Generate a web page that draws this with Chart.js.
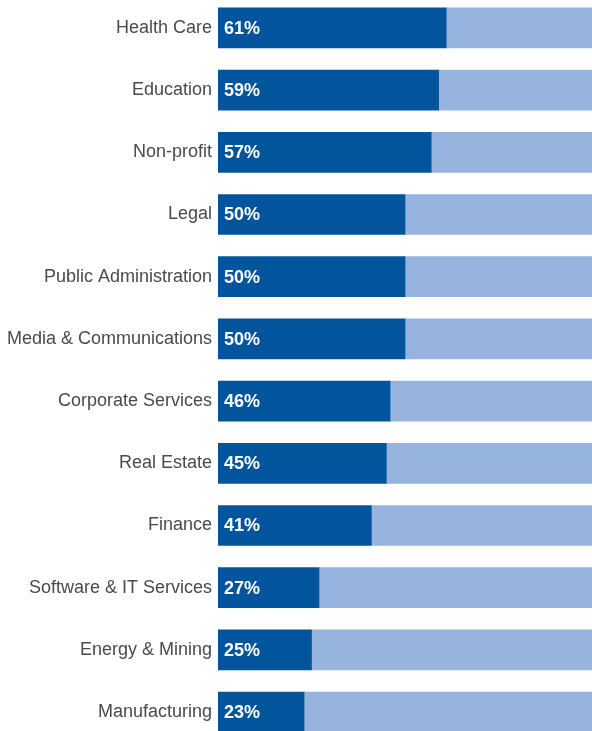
<!DOCTYPE html>
<html><head><meta charset="utf-8">
<script src="https://cdn.jsdelivr.net/npm/chart.js@4"></script>
<style>
html,body{margin:0;padding:0;overflow:hidden;background:#fff;width:592px;height:731px;}
#wrap{position:absolute;left:0;top:-20px;width:592px;height:780px;}
</style></head><body>
<div id="wrap"><canvas id="c"></canvas></div>
<script>
const categories = ["Health Care","Education","Non-profit","Legal","Public Administration","Media & Communications","Corporate Services","Real Estate","Finance","Software & IT Services","Energy & Mining","Manufacturing"];
const values = [61,59,57,50,50,50,46,45,41,27,25,23];
const remainder = values.map(v => 100 - v);
const valueLabels = values.map(v => v + "%");

const labelPlugin = {
  id: 'valLabels',
  afterDatasetsDraw(chart) {
    const ctx = chart.ctx;
    const meta = chart.getDatasetMeta(0);
    ctx.save();
    ctx.fillStyle = '#ffffff';
    ctx.font = 'bold 18px "Liberation Sans", Arial, sans-serif';
    ctx.textAlign = 'left';
    ctx.textBaseline = 'middle';
    meta.data.forEach((bar, i) => {
      ctx.fillText(valueLabels[i], bar.base + 6, bar.y + 1);
    });
    ctx.restore();
  }
};

new Chart(document.getElementById('c'), {
  type: 'bar',
  data: {
    labels: categories,
    datasets: [
      {data: values, backgroundColor: '#02549C', borderWidth: 0, barThickness: 40},
      {data: remainder, backgroundColor: '#96B4DD', borderWidth: 0, barThickness: 40}
    ]
  },
  options: {
    indexAxis: 'y',
    responsive: true,
    maintainAspectRatio: false,
    animation: false,
    layout: {padding: 0},
    plugins: {legend: {display: false}, tooltip: {enabled: false}},
    scales: {
      x: {stacked: true, min: 0, max: 100, display: false},
      y: {
        stacked: true,
        grid: {display: false, drawTicks: false, tickLength: 0},
        border: {display: false},
        ticks: {color: '#4a4a4a', font: {size: 18, family: '"Liberation Sans", Arial, sans-serif'}, padding: 6},
        afterFit(scale) { scale.width = 218; }
      }
    }
  },
  plugins: [labelPlugin]
});
</script>
</body></html>
